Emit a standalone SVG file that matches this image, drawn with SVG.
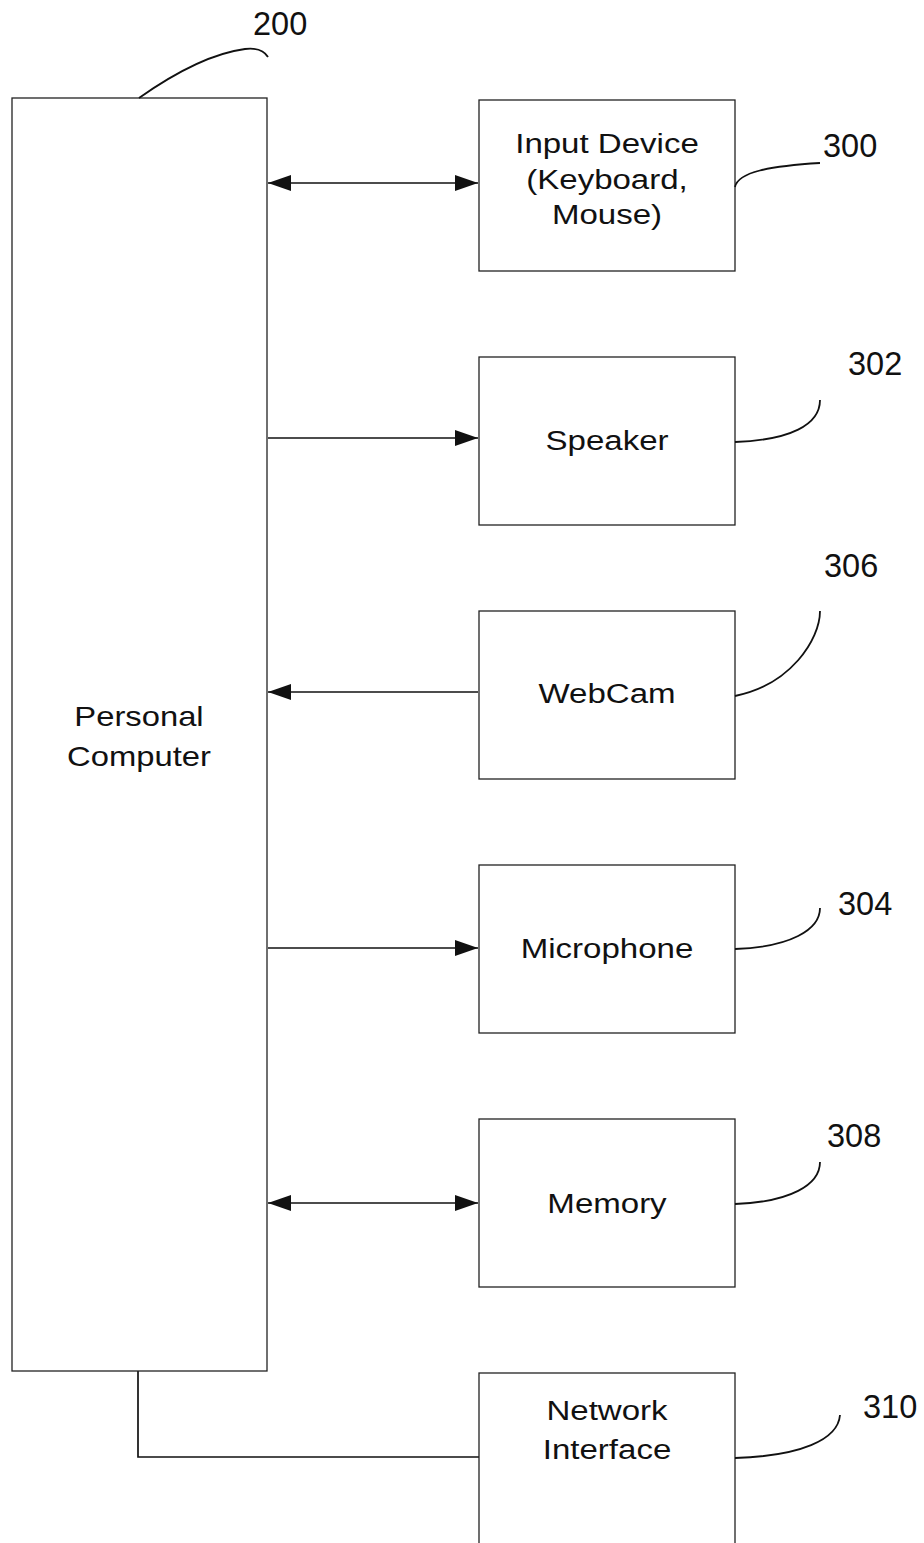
<svg xmlns="http://www.w3.org/2000/svg" width="924" height="1543" viewBox="0 0 924 1543">
<style>
.box{fill:#fff;stroke:#222;stroke-width:1.3}
.lbl{font-family:"Liberation Sans",Arial,sans-serif;font-size:28px;fill:#111;text-anchor:middle}
.num{font-family:"Liberation Sans",Arial,sans-serif;font-size:32.5px;fill:#111}
.ln{fill:none;stroke:#111;stroke-width:1.7}
.ld{fill:none;stroke:#111;stroke-width:1.8}
</style>
<defs>
<marker id="ah" markerUnits="userSpaceOnUse" markerWidth="26" markerHeight="18" refX="23" refY="8" orient="auto-start-reverse">
<path d="M0,0 L23,8 L0,16 Z" fill="#111"/>
</marker>
</defs>
<rect width="924" height="1543" fill="#fff"/>
<g id="connectors">
<line class="ln" x1="268" y1="183" x2="478" y2="183" marker-start="url(#ah)" marker-end="url(#ah)"/>
<line class="ln" x1="268" y1="438" x2="478" y2="438" marker-end="url(#ah)"/>
<line class="ln" x1="478" y1="692" x2="268" y2="692" marker-end="url(#ah)"/>
<line class="ln" x1="268" y1="948" x2="478" y2="948" marker-end="url(#ah)"/>
<line class="ln" x1="268" y1="1203" x2="478" y2="1203" marker-start="url(#ah)" marker-end="url(#ah)"/>
<polyline class="ln" points="138,1371 138,1457 479,1457"/>
</g>
<g id="pc">
<rect class="box" x="12" y="98" width="255" height="1273"/>
<text class="lbl" transform="translate(139,726) scale(1.17,1)">Personal</text>
<text class="lbl" transform="translate(139,766) scale(1.17,1)">Computer</text>
<path class="ld" d="M139,98 Q200,55 245,49 Q262,47 268,57"/>
<text class="num" x="253" y="35">200</text>
</g>
<g id="input">
<rect class="box" x="479" y="100" width="256" height="171"/>
<text class="lbl" transform="translate(607,153) scale(1.18,1)">Input Device</text>
<text class="lbl" transform="translate(607,189) scale(1.18,1)">(Keyboard,</text>
<text class="lbl" transform="translate(607,224) scale(1.18,1)">Mouse)</text>
<path class="ld" d="M735,187 C738,172 770,166 820,163"/>
<text class="num" x="823" y="157">300</text>
</g>
<g id="speaker">
<rect class="box" x="479" y="357" width="256" height="168"/>
<text class="lbl" transform="translate(607,450) scale(1.18,1)">Speaker</text>
<path class="ld" d="M735,442 C790,440 820,425 820,400"/>
<text class="num" x="848" y="375">302</text>
</g>
<g id="webcam">
<rect class="box" x="479" y="611" width="256" height="168"/>
<text class="lbl" transform="translate(607,703) scale(1.18,1)">WebCam</text>
<path class="ld" d="M735,696 C790,685 820,640 820,611"/>
<text class="num" x="824" y="577">306</text>
</g>
<g id="microphone">
<rect class="box" x="479" y="865" width="256" height="168"/>
<text class="lbl" transform="translate(607,958) scale(1.18,1)">Microphone</text>
<path class="ld" d="M735,949 C790,947 820,930 820,908"/>
<text class="num" x="838" y="915">304</text>
</g>
<g id="memory">
<rect class="box" x="479" y="1119" width="256" height="168"/>
<text class="lbl" transform="translate(607,1213) scale(1.18,1)">Memory</text>
<path class="ld" d="M735,1204 C790,1202 820,1185 820,1162"/>
<text class="num" x="827" y="1147">308</text>
</g>
<g id="network">
<rect class="box" x="479" y="1373" width="256" height="200"/>
<text class="lbl" transform="translate(607,1420) scale(1.18,1)">Network</text>
<text class="lbl" transform="translate(607,1459) scale(1.18,1)">Interface</text>
<path class="ld" d="M735,1458 C800,1456 838,1440 840,1415"/>
<text class="num" x="863" y="1418">310</text>
</g>
</svg>
